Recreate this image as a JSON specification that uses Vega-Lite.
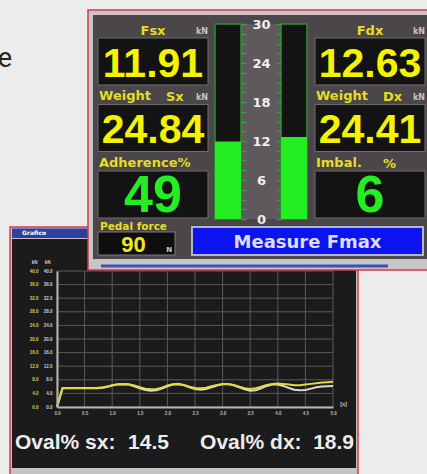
{
  "$schema": "https://vega.github.io/schema/vega-lite/v6.json",
  "width": 427,
  "height": 474,
  "autosize": "none",
  "padding": 0,
  "background": "#ebeceb",
  "config": {"view": {"stroke": null}, "font": "DejaVu Sans"},
  "datasets": {
    "page": [{"caption": "e"}],
    "windows": [{"window": "Forze"}, {"window": "Grafico"}],
    "readings": [
      {"side": "Sx", "row": "Force", "title": "Fsx", "tag": "", "unit": "kN", "value": 11.91},
      {"side": "Sx", "row": "Weight", "title": "Weight", "tag": "Sx", "unit": "kN", "value": 24.84},
      {"side": "Sx", "row": "Ratio", "title": "Adherence%", "tag": "", "unit": "", "value": 49},
      {"side": "Dx", "row": "Force", "title": "Fdx", "tag": "", "unit": "kN", "value": 12.63},
      {"side": "Dx", "row": "Weight", "title": "Weight", "tag": "Dx", "unit": "kN", "value": 24.41},
      {"side": "Dx", "row": "Ratio", "title": "Imbal.", "tag": "%", "unit": "", "value": 6}
    ],
    "gauge": [
      {"side": "Sx", "force": 11.91, "full_scale": 30},
      {"side": "Dx", "force": 12.63, "full_scale": 30}
    ],
    "gauge_scale": [{"scale": "kN", "min": 0, "max": 30}],
    "controls": [
      {"control": "Pedal force", "value": 90, "unit": "N"},
      {"control": "Measure Fmax"}
    ],
    "oval": [
      {"side": "sx", "measure": "Ovalization", "label": "Oval% sx:", "value": 14.5},
      {"side": "dx", "measure": "Ovalization", "label": "Oval% dx:", "value": 18.9}
    ],
    "time_ticks": [{"t": 0}, {"t": 0.5}, {"t": 1}, {"t": 1.5}, {"t": 2}, {"t": 2.5}, {"t": 3}, {"t": 3.5}, {"t": 4}, {"t": 4.5}, {"t": 5}],
    "force_ticks": [{"kN": 0}, {"kN": 4}, {"kN": 8}, {"kN": 12}, {"kN": 16}, {"kN": 20}, {"kN": 24}, {"kN": 28}, {"kN": 32}, {"kN": 36}, {"kN": 40}],
    "trace": [
      {"t": 0.0, "sx": 0, "dx": 0},
      {"t": 0.1, "sx": 5.6, "dx": 5.5},
      {"t": 0.2, "sx": 5.6, "dx": 5.5},
      {"t": 0.3, "sx": 5.6, "dx": 5.5},
      {"t": 0.4, "sx": 5.6, "dx": 5.5},
      {"t": 0.5, "sx": 5.6, "dx": 5.5},
      {"t": 0.6, "sx": 5.6, "dx": 5.5},
      {"t": 0.7, "sx": 5.6, "dx": 5.5},
      {"t": 0.8, "sx": 5.7, "dx": 5.6},
      {"t": 0.9, "sx": 6.0, "dx": 5.9},
      {"t": 1.0, "sx": 6.4, "dx": 6.3},
      {"t": 1.1, "sx": 6.7, "dx": 6.6},
      {"t": 1.2, "sx": 6.8, "dx": 6.7},
      {"t": 1.3, "sx": 6.7, "dx": 6.6},
      {"t": 1.4, "sx": 6.3, "dx": 6.1},
      {"t": 1.5, "sx": 5.8, "dx": 5.5},
      {"t": 1.6, "sx": 5.4, "dx": 5.0},
      {"t": 1.7, "sx": 5.2, "dx": 4.8},
      {"t": 1.8, "sx": 5.3, "dx": 4.9},
      {"t": 1.9, "sx": 5.7, "dx": 5.4},
      {"t": 2.0, "sx": 6.3, "dx": 6.1},
      {"t": 2.1, "sx": 6.7, "dx": 6.6},
      {"t": 2.2, "sx": 6.8, "dx": 6.7},
      {"t": 2.3, "sx": 6.5, "dx": 6.4},
      {"t": 2.4, "sx": 6.0, "dx": 5.8},
      {"t": 2.5, "sx": 5.6, "dx": 5.3},
      {"t": 2.6, "sx": 5.5, "dx": 5.1},
      {"t": 2.7, "sx": 5.7, "dx": 5.3},
      {"t": 2.8, "sx": 6.1, "dx": 5.8},
      {"t": 2.9, "sx": 6.5, "dx": 6.3},
      {"t": 3.0, "sx": 6.8, "dx": 6.7},
      {"t": 3.1, "sx": 6.8, "dx": 6.7},
      {"t": 3.2, "sx": 6.5, "dx": 6.4},
      {"t": 3.3, "sx": 6.0, "dx": 5.8},
      {"t": 3.4, "sx": 5.5, "dx": 5.2},
      {"t": 3.5, "sx": 5.3, "dx": 4.8},
      {"t": 3.6, "sx": 5.5, "dx": 4.9},
      {"t": 3.7, "sx": 6.0, "dx": 5.5},
      {"t": 3.8, "sx": 6.5, "dx": 6.2},
      {"t": 3.9, "sx": 6.8, "dx": 6.6},
      {"t": 4.0, "sx": 6.9, "dx": 6.6},
      {"t": 4.1, "sx": 6.8, "dx": 6.2},
      {"t": 4.2, "sx": 6.6, "dx": 5.6},
      {"t": 4.3, "sx": 6.4, "dx": 5.1},
      {"t": 4.4, "sx": 6.4, "dx": 4.9},
      {"t": 4.5, "sx": 6.6, "dx": 5.0},
      {"t": 4.6, "sx": 6.8, "dx": 5.4},
      {"t": 4.7, "sx": 7.0, "dx": 5.8},
      {"t": 4.8, "sx": 7.2, "dx": 6.0},
      {"t": 4.9, "sx": 7.3, "dx": 6.1},
      {"t": 5.0, "sx": 7.4, "dx": 6.2}
    ]
  },
  "resolve": {"scale": {"x": "independent", "y": "independent"}},
  "layer": [
    {
      "data": {"name": "page"},
      "mark": {"type": "text", "font": "Roboto", "fontSize": 27, "color": "#262626", "align": "right", "baseline": "alphabetic"},
      "encoding": {
        "x": {"field": "caption", "type": "nominal", "bandPosition": 1, "scale": {"type": "band", "range": [0, 12], "paddingInner": 0, "paddingOuter": 0}, "axis": null},
        "y": {"field": "caption", "type": "nominal", "bandPosition": 1, "scale": {"type": "band", "range": [45, 67], "paddingInner": 0, "paddingOuter": 0}, "axis": null},
        "text": {"field": "caption"}
      }
    },
    {
      "data": {"name": "windows"},
      "transform": [{"filter": "datum.window === 'Grafico'"}],
      "mark": {"type": "rect", "fill": "#c3c3c3", "stroke": "#d23a4c", "strokeWidth": 1.5},
      "encoding": {
        "x": {"field": "window", "type": "nominal", "scale": {"type": "band", "range": [10, 358], "paddingInner": 0, "paddingOuter": 0}, "axis": null},
        "y": {"field": "window", "type": "nominal", "scale": {"type": "band", "range": [227, 490], "paddingInner": 0, "paddingOuter": 0}, "axis": null}
      }
    },
    {
      "data": {"name": "windows"},
      "transform": [{"filter": "datum.window === 'Grafico'"}],
      "layer": [
        {
          "mark": {"type": "rect", "fill": "#2f3f9e"},
          "encoding": {
            "x": {"field": "window", "type": "nominal", "scale": {"type": "band", "range": [12, 356], "paddingInner": 0, "paddingOuter": 0}, "axis": null},
            "y": {"field": "window", "type": "nominal", "scale": {"type": "band", "range": [228.5, 238], "paddingInner": 0, "paddingOuter": 0}, "axis": null}
          }
        },
        {
          "mark": {"type": "text", "fill": "#ffffff", "fontSize": 6, "fontWeight": "bold", "align": "left", "baseline": "middle", "dx": 10},
          "encoding": {
            "x": {"field": "window", "type": "nominal", "bandPosition": 0, "scale": {"type": "band", "range": [12, 356], "paddingInner": 0, "paddingOuter": 0}, "axis": null},
            "y": {"field": "window", "type": "nominal", "scale": {"type": "band", "range": [228.5, 238], "paddingInner": 0, "paddingOuter": 0}, "axis": null},
            "text": {"field": "window"}
          }
        }
      ]
    },
    {
      "data": {"name": "windows"},
      "transform": [{"filter": "datum.window === 'Grafico'"}],
      "mark": {"type": "rect", "fill": "#1b1b1b"},
      "encoding": {
        "x": {"field": "window", "type": "nominal", "scale": {"type": "band", "range": [12, 356], "paddingInner": 0, "paddingOuter": 0}, "axis": null},
        "y": {"field": "window", "type": "nominal", "scale": {"type": "band", "range": [239, 468], "paddingInner": 0, "paddingOuter": 0}, "axis": null}
      }
    },
    {
      "layer": [
        {
          "data": {"name": "time_ticks"},
          "mark": {"type": "rule", "color": "#5a5a5a", "strokeWidth": 1},
          "encoding": {
            "x": {"field": "t", "type": "quantitative", "scale": {"domain": [0, 5], "range": [57, 333], "nice": false, "zero": false}, "axis": null},
            "y": {"datum": 0, "type": "quantitative", "scale": {"domain": [0, 40], "range": [407, 271], "nice": false}, "axis": null},
            "y2": {"datum": 40}
          }
        },
        {
          "data": {"name": "force_ticks"},
          "mark": {"type": "rule", "color": "#5a5a5a", "strokeWidth": 1},
          "encoding": {
            "x": {"datum": 0, "type": "quantitative", "scale": {"domain": [0, 5], "range": [57, 333], "nice": false, "zero": false}, "axis": null},
            "x2": {"datum": 5},
            "y": {"field": "kN", "type": "quantitative", "scale": {"domain": [0, 40], "range": [407, 271], "nice": false}, "axis": null}
          }
        }
      ]
    },
    {
      "data": {"name": "trace"},
      "mark": {"type": "line", "color": "#dadada", "strokeWidth": 2},
      "encoding": {
        "x": {
          "field": "t", "type": "quantitative",
          "scale": {"domain": [0, 5], "range": [57, 333], "nice": false, "zero": false},
          "axis": {
            "orient": "bottom", "offset": -67, "values": [0, 0.5, 1, 1.5, 2, 2.5, 3, 3.5, 4, 4.5, 5], "format": ".1f",
            "labelFont": "Liberation Sans", "labelFontSize": 4.5, "labelFontWeight": "bold", "labelColor": "#bdbdbd", "labelPadding": 3,
            "labelOverlap": false, "labelBound": false, "labelFlush": false,
            "ticks": false, "domain": true, "domainColor": "#b4b4b4", "domainWidth": 2, "grid": false,
            "title": "[s]", "titleX": 343, "titleY": -4, "titleAngle": 0, "titleAlign": "center", "titleBaseline": "middle",
            "titleFont": "Liberation Sans", "titleFontSize": 5.5, "titleFontWeight": "bold", "titleColor": "#cfcfcf", "zindex": 1
          }
        },
        "y": {
          "field": "dx", "type": "quantitative",
          "scale": {"domain": [0, 40], "range": [407, 271], "nice": false},
          "axis": {
            "orient": "left", "offset": -57, "values": [0, 4, 8, 12, 16, 20, 24, 28, 32, 36, 40], "format": ".1f",
            "labelFont": "Liberation Sans", "labelFontSize": 4.5, "labelFontWeight": "bold", "labelColor": "#d0d0d0", "labelPadding": 5,
            "labelOverlap": false, "labelBound": false, "labelFlush": false,
            "ticks": false, "domain": true, "domainColor": "#b4b4b4", "domainWidth": 2, "grid": false,
            "title": "kN", "titleX": -10, "titleY": 262, "titleAngle": 0, "titleAlign": "center", "titleBaseline": "middle",
            "titleFont": "Liberation Sans", "titleFontSize": 4.5, "titleFontWeight": "bold", "titleColor": "#cfcfcf", "zindex": 1
          }
        }
      }
    },
    {
      "data": {"name": "trace"},
      "mark": {"type": "line", "color": "#e2dc3a", "strokeWidth": 2},
      "encoding": {
        "x": {"field": "t", "type": "quantitative", "scale": {"domain": [0, 5], "range": [57, 333], "nice": false, "zero": false}, "axis": null},
        "y": {
          "field": "sx", "type": "quantitative",
          "scale": {"domain": [0, 40], "range": [407, 271], "nice": false},
          "axis": {
            "orient": "left", "offset": -57, "values": [0, 4, 8, 12, 16, 20, 24, 28, 32, 36, 40], "format": ".1f",
            "labelFont": "Liberation Sans", "labelFontSize": 4.5, "labelFontWeight": "bold", "labelColor": "#d8d040", "labelPadding": 19,
            "labelOverlap": false, "labelBound": false, "labelFlush": false,
            "ticks": false, "domain": false, "grid": false,
            "title": "kN", "titleX": -23, "titleY": 262, "titleAngle": 0, "titleAlign": "center", "titleBaseline": "middle",
            "titleFont": "Liberation Sans", "titleFontSize": 4.5, "titleFontWeight": "bold", "titleColor": "#cfcfcf", "zindex": 1
          }
        }
      }
    },
    {
      "data": {"name": "oval"},
      "layer": [
        {
          "mark": {"type": "text", "font": "Liberation Sans", "fontSize": 21, "fontWeight": "bold", "fill": "#ececec", "align": "left", "baseline": "alphabetic", "dy": 7},
          "encoding": {
            "x": {"field": "side", "type": "nominal", "bandPosition": 0, "scale": {"type": "band", "domain": ["sx", "dx"], "range": [15, 354], "paddingInner": 0.168, "paddingOuter": 0}, "axis": null},
            "y": {"field": "measure", "type": "nominal", "scale": {"type": "band", "range": [434, 450], "paddingInner": 0, "paddingOuter": 0}, "axis": null},
            "text": {"field": "label"}
          }
        },
        {
          "mark": {"type": "text", "font": "Liberation Sans", "fontSize": 21, "fontWeight": "bold", "fill": "#ececec", "align": "right", "baseline": "alphabetic", "dy": 7},
          "encoding": {
            "x": {"field": "side", "type": "nominal", "bandPosition": 1, "scale": {"type": "band", "domain": ["sx", "dx"], "range": [15, 354], "paddingInner": 0.168, "paddingOuter": 0}, "axis": null},
            "y": {"field": "measure", "type": "nominal", "scale": {"type": "band", "range": [434, 450], "paddingInner": 0, "paddingOuter": 0}, "axis": null},
            "text": {"field": "value", "format": ".1f"}
          }
        }
      ]
    },
    {
      "data": {"name": "windows"},
      "transform": [{"filter": "datum.window === 'Forze'"}],
      "mark": {"type": "rect", "fill": "#c6c6c6", "stroke": "#d23a4c", "strokeWidth": 1.5},
      "encoding": {
        "x": {"field": "window", "type": "nominal", "scale": {"type": "band", "range": [88, 445], "paddingInner": 0, "paddingOuter": 0}, "axis": null},
        "y": {"field": "window", "type": "nominal", "scale": {"type": "band", "range": [10, 270], "paddingInner": 0, "paddingOuter": 0}, "axis": null}
      }
    },
    {
      "data": {"name": "windows"},
      "transform": [{"filter": "datum.window === 'Forze'"}],
      "mark": {"type": "rect", "fill": "#4a4649"},
      "encoding": {
        "x": {"field": "window", "type": "nominal", "scale": {"type": "band", "range": [93, 445], "paddingInner": 0, "paddingOuter": 0}, "axis": null},
        "y": {"field": "window", "type": "nominal", "scale": {"type": "band", "range": [15, 259], "paddingInner": 0, "paddingOuter": 0}, "axis": null}
      }
    },
    {
      "data": {"name": "windows"},
      "transform": [{"filter": "datum.window === 'Forze'"}],
      "mark": {"type": "rect", "fill": "#4050b8"},
      "encoding": {
        "x": {"field": "window", "type": "nominal", "scale": {"type": "band", "range": [101, 388], "paddingInner": 0, "paddingOuter": 0}, "axis": null},
        "y": {"field": "window", "type": "nominal", "scale": {"type": "band", "range": [264.5, 267.5], "paddingInner": 0, "paddingOuter": 0}, "axis": null}
      }
    },
    {
      "data": {"name": "readings"},
      "layer": [
        {
          "mark": {"type": "rect", "fill": "#131313", "stroke": "#6e6e6e", "strokeWidth": 1},
          "encoding": {
            "x": {"field": "side", "type": "nominal", "scale": {"type": "band", "domain": ["Sx", "Dx"], "range": [98, 425], "paddingInner": 0.493, "paddingOuter": 0}, "axis": null},
            "y": {"field": "row", "type": "nominal", "scale": {"type": "band", "domain": ["Force", "Weight", "Ratio"], "range": [38, 218], "paddingInner": 0.293, "paddingOuter": 0}, "axis": null}
          }
        },
        {
          "transform": [{"filter": "datum.row !== 'Ratio'"}],
          "mark": {"type": "text", "font": "Liberation Sans", "fontSize": 41, "fontWeight": "bold", "fill": "#f4f400", "align": "center", "baseline": "alphabetic", "dy": 15},
          "encoding": {
            "x": {"field": "side", "type": "nominal", "scale": {"type": "band", "domain": ["Sx", "Dx"], "range": [98, 425], "paddingInner": 0.493, "paddingOuter": 0}, "axis": null},
            "y": {"field": "row", "type": "nominal", "scale": {"type": "band", "domain": ["Force", "Weight", "Ratio"], "range": [38, 218], "paddingInner": 0.293, "paddingOuter": 0}, "axis": null},
            "text": {"field": "value", "format": ".2f"}
          }
        },
        {
          "transform": [{"filter": "datum.row === 'Ratio'"}],
          "mark": {"type": "text", "font": "Liberation Sans", "fontSize": 52, "fontWeight": "bold", "fill": "#22ee22", "align": "center", "baseline": "alphabetic", "dy": 18},
          "encoding": {
            "x": {"field": "side", "type": "nominal", "scale": {"type": "band", "domain": ["Sx", "Dx"], "range": [98, 425], "paddingInner": 0.493, "paddingOuter": 0}, "axis": null},
            "y": {"field": "row", "type": "nominal", "scale": {"type": "band", "domain": ["Force", "Weight", "Ratio"], "range": [38, 218], "paddingInner": 0.293, "paddingOuter": 0}, "axis": null},
            "text": {"field": "value", "format": "d"}
          }
        },
        {
          "transform": [{"filter": "datum.row === 'Force'"}],
          "mark": {"type": "text", "font": "DejaVu Sans", "fontSize": 13, "fontWeight": "bold", "fill": "#e6dd22", "align": "center", "baseline": "alphabetic", "dy": -3},
          "encoding": {
            "x": {"field": "side", "type": "nominal", "scale": {"type": "band", "domain": ["Sx", "Dx"], "range": [98, 425], "paddingInner": 0.493, "paddingOuter": 0}, "axis": null},
            "y": {"field": "row", "type": "nominal", "bandPosition": 0, "scale": {"type": "band", "domain": ["Force", "Weight", "Ratio"], "range": [38, 218], "paddingInner": 0.293, "paddingOuter": 0}, "axis": null},
            "text": {"field": "title"}
          }
        },
        {
          "transform": [{"filter": "datum.row !== 'Force'"}],
          "mark": {"type": "text", "font": "DejaVu Sans", "fontSize": 13, "fontWeight": "bold", "fill": "#e6dd22", "align": "left", "baseline": "alphabetic", "dy": -4, "dx": 1},
          "encoding": {
            "x": {"field": "side", "type": "nominal", "bandPosition": 0, "scale": {"type": "band", "domain": ["Sx", "Dx"], "range": [98, 425], "paddingInner": 0.493, "paddingOuter": 0}, "axis": null},
            "y": {"field": "row", "type": "nominal", "bandPosition": 0, "scale": {"type": "band", "domain": ["Force", "Weight", "Ratio"], "range": [38, 218], "paddingInner": 0.293, "paddingOuter": 0}, "axis": null},
            "text": {"field": "title"}
          }
        },
        {
          "transform": [{"filter": "datum.tag !== ''"}],
          "mark": {"type": "text", "font": "DejaVu Sans", "fontSize": 13, "fontWeight": "bold", "fill": "#e6dd22", "align": "left", "baseline": "alphabetic", "dy": -3, "dx": 68},
          "encoding": {
            "x": {"field": "side", "type": "nominal", "bandPosition": 0, "scale": {"type": "band", "domain": ["Sx", "Dx"], "range": [98, 425], "paddingInner": 0.493, "paddingOuter": 0}, "axis": null},
            "y": {"field": "row", "type": "nominal", "bandPosition": 0, "scale": {"type": "band", "domain": ["Force", "Weight", "Ratio"], "range": [38, 218], "paddingInner": 0.293, "paddingOuter": 0}, "axis": null},
            "text": {"field": "tag"}
          }
        },
        {
          "transform": [{"filter": "datum.unit !== ''"}],
          "mark": {"type": "text", "font": "DejaVu Sans", "fontSize": 8, "fontWeight": "bold", "fill": "#c4c4c4", "align": "right", "baseline": "alphabetic", "dy": -4},
          "encoding": {
            "x": {"field": "side", "type": "nominal", "bandPosition": 1, "scale": {"type": "band", "domain": ["Sx", "Dx"], "range": [98, 425], "paddingInner": 0.493, "paddingOuter": 0}, "axis": null},
            "y": {"field": "row", "type": "nominal", "bandPosition": 0, "scale": {"type": "band", "domain": ["Force", "Weight", "Ratio"], "range": [38, 218], "paddingInner": 0.293, "paddingOuter": 0}, "axis": null},
            "text": {"field": "unit"}
          }
        }
      ]
    },
    {
      "data": {"name": "gauge_scale"},
      "mark": {"type": "rect", "fill": "#5d595c"},
      "encoding": {
        "x": {"field": "scale", "type": "nominal", "scale": {"type": "band", "range": [241, 281], "paddingInner": 0, "paddingOuter": 0}, "axis": null},
        "y": {"field": "min", "type": "quantitative", "scale": {"domain": [0, 30], "range": [219, 24], "nice": false}, "axis": null},
        "y2": {"field": "max"}
      }
    },
    {
      "data": {"name": "gauge"},
      "transform": [{"filter": "datum.side === 'Sx'"}],
      "layer": [
        {
          "mark": {"type": "bar", "fill": "#141414", "stroke": "#2f8f2f", "strokeWidth": 1.5},
          "encoding": {
            "x": {"field": "side", "type": "nominal", "scale": {"type": "band", "domain": ["Sx", "Dx"], "range": [215, 307], "paddingInner": 0.606, "paddingOuter": 0}, "axis": null},
            "y": {
              "field": "full_scale", "type": "quantitative", "scale": {"domain": [0, 30], "range": [219, 24], "nice": false},
              "axis": {
                "orient": "right", "offset": -186, "values": [0, 1.5, 3, 4.5, 6, 7.5, 9, 10.5, 12, 13.5, 15, 16.5, 18, 19.5, 21, 22.5, 24, 25.5, 27, 28.5, 30],
                "labelExpr": "datum.value % 6 === 0 ? format(datum.value, 'd') : ''",
                "labelFont": "DejaVu Sans", "labelFontSize": 13, "labelFontWeight": "bold", "labelColor": "#f0f0f0",
                "labelAlign": "center", "labelBaseline": "middle", "labelPadding": 15, "labelOverlap": false, "labelBound": false, "labelFlush": true,
                "tickSize": 5, "tickColor": "#3a9e3a", "tickWidth": 1.5, "domain": false, "grid": false, "title": null, "zindex": 1
              }
            }
          }
        },
        {
          "mark": {"type": "bar", "fill": "#22ee22"},
          "encoding": {
            "x": {"field": "side", "type": "nominal", "scale": {"type": "band", "domain": ["Sx", "Dx"], "range": [215, 307], "paddingInner": 0.606, "paddingOuter": 0}, "axis": null},
            "y": {
              "field": "force", "type": "quantitative", "scale": {"domain": [0, 30], "range": [219, 24], "nice": false},
              "axis": {
                "orient": "right", "offset": -186, "values": [0, 1.5, 3, 4.5, 6, 7.5, 9, 10.5, 12, 13.5, 15, 16.5, 18, 19.5, 21, 22.5, 24, 25.5, 27, 28.5, 30],
                "labelExpr": "datum.value % 6 === 0 ? format(datum.value, 'd') : ''",
                "labelFont": "DejaVu Sans", "labelFontSize": 13, "labelFontWeight": "bold", "labelColor": "#f0f0f0",
                "labelAlign": "center", "labelBaseline": "middle", "labelPadding": 15, "labelOverlap": false, "labelBound": false, "labelFlush": true,
                "tickSize": 5, "tickColor": "#3a9e3a", "tickWidth": 1.5, "domain": false, "grid": false, "title": null, "zindex": 1
              }
            }
          }
        }
      ]
    },
    {
      "data": {"name": "gauge"},
      "transform": [{"filter": "datum.side === 'Dx'"}],
      "layer": [
        {
          "mark": {"type": "bar", "fill": "#141414", "stroke": "#2f8f2f", "strokeWidth": 1.5},
          "encoding": {
            "x": {"field": "side", "type": "nominal", "scale": {"type": "band", "domain": ["Sx", "Dx"], "range": [215, 307], "paddingInner": 0.606, "paddingOuter": 0}, "axis": null},
            "y": {
              "field": "full_scale", "type": "quantitative", "scale": {"domain": [0, 30], "range": [219, 24], "nice": false},
              "axis": {
                "orient": "left", "offset": -281, "values": [0, 1.5, 3, 4.5, 6, 7.5, 9, 10.5, 12, 13.5, 15, 16.5, 18, 19.5, 21, 22.5, 24, 25.5, 27, 28.5, 30],
                "labels": false, "tickSize": 5, "tickColor": "#3a9e3a", "tickWidth": 1.5, "domain": false, "grid": false, "title": null, "zindex": 1
              }
            }
          }
        },
        {
          "mark": {"type": "bar", "fill": "#22ee22"},
          "encoding": {
            "x": {"field": "side", "type": "nominal", "scale": {"type": "band", "domain": ["Sx", "Dx"], "range": [215, 307], "paddingInner": 0.606, "paddingOuter": 0}, "axis": null},
            "y": {
              "field": "force", "type": "quantitative", "scale": {"domain": [0, 30], "range": [219, 24], "nice": false},
              "axis": {
                "orient": "left", "offset": -281, "values": [0, 1.5, 3, 4.5, 6, 7.5, 9, 10.5, 12, 13.5, 15, 16.5, 18, 19.5, 21, 22.5, 24, 25.5, 27, 28.5, 30],
                "labels": false, "tickSize": 5, "tickColor": "#3a9e3a", "tickWidth": 1.5, "domain": false, "grid": false, "title": null, "zindex": 1
              }
            }
          }
        }
      ]
    },
    {
      "data": {"name": "controls"},
      "transform": [{"filter": "datum.control === 'Pedal force'"}],
      "layer": [
        {
          "mark": {"type": "rect", "fill": "#0e0e0e", "stroke": "#7a7a7a", "strokeWidth": 1},
          "encoding": {
            "x": {"field": "control", "type": "nominal", "scale": {"type": "band", "range": [98, 175], "paddingInner": 0, "paddingOuter": 0}, "axis": null},
            "y": {"field": "control", "type": "nominal", "scale": {"type": "band", "range": [232, 255], "paddingInner": 0, "paddingOuter": 0}, "axis": null}
          }
        },
        {
          "mark": {"type": "text", "font": "Liberation Sans", "fontSize": 22, "fontWeight": "bold", "fill": "#f0ea10", "align": "center", "baseline": "alphabetic", "dx": -3, "dy": 8},
          "encoding": {
            "x": {"field": "control", "type": "nominal", "scale": {"type": "band", "range": [98, 175], "paddingInner": 0, "paddingOuter": 0}, "axis": null},
            "y": {"field": "control", "type": "nominal", "scale": {"type": "band", "range": [232, 255], "paddingInner": 0, "paddingOuter": 0}, "axis": null},
            "text": {"field": "value", "format": "d"}
          }
        },
        {
          "mark": {"type": "text", "font": "DejaVu Sans", "fontSize": 7, "fontWeight": "bold", "fill": "#cfcfcf", "align": "right", "baseline": "alphabetic", "dx": -3, "dy": 8},
          "encoding": {
            "x": {"field": "control", "type": "nominal", "bandPosition": 1, "scale": {"type": "band", "range": [98, 175], "paddingInner": 0, "paddingOuter": 0}, "axis": null},
            "y": {"field": "control", "type": "nominal", "scale": {"type": "band", "range": [232, 255], "paddingInner": 0, "paddingOuter": 0}, "axis": null},
            "text": {"field": "unit"}
          }
        },
        {
          "mark": {"type": "text", "font": "DejaVu Sans", "fontSize": 10.5, "fontWeight": "bold", "fill": "#e6dd22", "align": "left", "baseline": "alphabetic", "dx": 2, "dy": -2},
          "encoding": {
            "x": {"field": "control", "type": "nominal", "bandPosition": 0, "scale": {"type": "band", "range": [98, 175], "paddingInner": 0, "paddingOuter": 0}, "axis": null},
            "y": {"field": "control", "type": "nominal", "bandPosition": 0, "scale": {"type": "band", "range": [232, 255], "paddingInner": 0, "paddingOuter": 0}, "axis": null},
            "text": {"field": "control"}
          }
        }
      ]
    },
    {
      "data": {"name": "controls"},
      "transform": [{"filter": "datum.control === 'Measure Fmax'"}],
      "layer": [
        {
          "mark": {"type": "rect", "fill": "#0b14f0", "stroke": "#b4b4c4", "strokeWidth": 2},
          "encoding": {
            "x": {"field": "control", "type": "nominal", "scale": {"type": "band", "range": [192, 423], "paddingInner": 0, "paddingOuter": 0}, "axis": null},
            "y": {"field": "control", "type": "nominal", "scale": {"type": "band", "range": [227, 255], "paddingInner": 0, "paddingOuter": 0}, "axis": null}
          }
        },
        {
          "mark": {"type": "text", "font": "DejaVu Sans", "fontSize": 18, "fontWeight": "bold", "fill": "#dcdcff", "align": "center", "baseline": "alphabetic", "dy": 7},
          "encoding": {
            "x": {"field": "control", "type": "nominal", "scale": {"type": "band", "range": [192, 423], "paddingInner": 0, "paddingOuter": 0}, "axis": null},
            "y": {"field": "control", "type": "nominal", "scale": {"type": "band", "range": [227, 255], "paddingInner": 0, "paddingOuter": 0}, "axis": null},
            "text": {"field": "control"}
          }
        }
      ]
    }
  ]
}
